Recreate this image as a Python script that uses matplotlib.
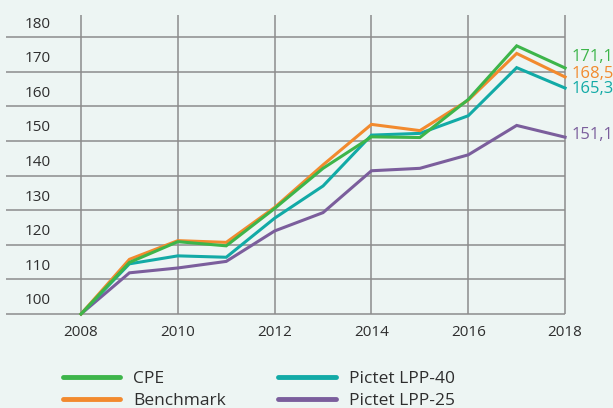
import matplotlib
matplotlib.use("Agg")
from matplotlib import pyplot as plt
from matplotlib.lines import Line2D

plt.rcParams['font.family'] = ['Open Sans', 'DejaVu Sans']

years = [2008, 2009, 2010, 2011, 2012, 2013, 2014, 2015, 2016, 2017, 2018]
cpe = [100, 114.9, 120.9, 119.7, 130.5, 142.1, 151.2, 151.0, 162.0, 177.5, 171.1]
benchmark = [100, 115.8, 121.2, 120.7, 130.8, 143.1, 154.8, 153.0, 161.8, 175.3, 168.5]
lpp40 = [100, 114.5, 116.8, 116.4, 127.7, 137.0, 151.7, 152.2, 157.3, 171.2, 165.3]
lpp25 = [100, 111.9, 113.3, 115.2, 124.0, 129.3, 141.4, 142.1, 146.0, 154.5, 151.1]

names = ['CPE', 'Benchmark', 'Pictet LPP-40', 'Pictet LPP-25']
end_labels = ['171,1', '168,5', '165,3', '151,1']
colours = ['#3db54a', '#f28a2e', '#12aaa6', '#7b5e9c']
# where the end labels sit (nudged so they don't overlap)
label_y = [174.2, 169.4, 164.9, 151.8]

y_ticks = [100, 110, 120, 130, 140, 150, 160, 170, 180]
x_ticks = [2008, 2010, 2012, 2014, 2016, 2018]

bg = '#edf5f3'
grid_col = '#8c8c8c'
text_col = '#2e2e2e'

fig = plt.figure(figsize=(6.13, 4.08), dpi=100)
fig.patch.set_facecolor(bg)
ax = fig.add_axes([0, 0, 1, 1])
ax.set_facecolor(bg)
ax.set_xlim(2006.326, 2018.99)
ax.set_ylim(72.83, 190.75)
ax.axis('off')

# grid
ax.hlines(y_ticks, 2006.45, 2018, color=grid_col, lw=1.1, zorder=1)
ax.vlines(x_ticks, 100, 186.4, color=grid_col, lw=1.1, zorder=1)

for t in y_ticks:
    ax.text(2007.11, t + 3.8, str(t), ha='center', va='center',
            fontsize=11, color=text_col)
for t in x_ticks:
    ax.text(t, 94.6, str(t), ha='center', va='center',
            fontsize=11, color=text_col)

series = [cpe, benchmark, lpp40, lpp25]
# draw purple first so the others sit on top
for vals, c in zip(series[::-1], colours[::-1]):
    ax.plot(years, vals, color=c, lw=2.2, solid_joinstyle='miter', zorder=3)

for lab, yy, c in zip(end_labels, label_y, colours):
    ax.text(2018.14, yy, lab, ha='left', va='center', fontsize=12, color=c)

handles = [Line2D([], [], color=c, lw=3.5, solid_capstyle='round') for c in colours]
leg = fig.legend(handles, names, ncol=2, frameon=False,
                 loc='upper left', bbox_to_anchor=(0.103, 0.092),
                 fontsize=12.5, handlelength=3.3, handletextpad=0.75,
                 columnspacing=3.0, labelspacing=0.37, borderaxespad=0,
                 borderpad=0)
for t in leg.get_texts():
    t.set_color(text_col)

fig.savefig('out.png', dpi=100, facecolor=bg)
